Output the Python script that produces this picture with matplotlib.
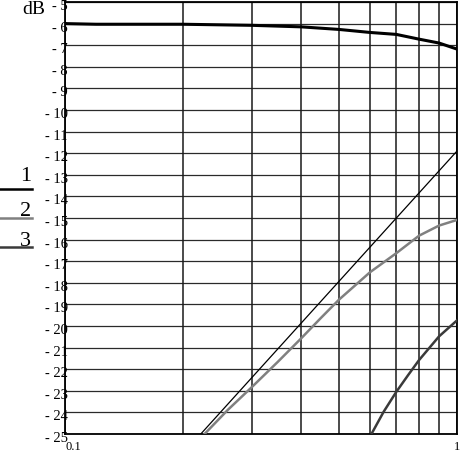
import matplotlib
matplotlib.use("Agg")
import matplotlib.pyplot as plt
import matplotlib.transforms as mtransforms
from matplotlib.lines import Line2D

plt.rcParams['font.family'] = ['Liberation Serif', 'DejaVu Serif']

# curve 1 (thick black, top)
f1 = [0.1, 0.12, 0.2, 0.3, 0.4, 0.5, 0.6, 0.7, 0.8, 0.9, 1.0]
db1 = [-6.0, -6.03, -6.03, -6.08, -6.15, -6.27, -6.41, -6.5, -6.72, -6.9, -7.18]

# thin black straight line
f_lin = [0.222, 1.0]
db_lin = [-25.0, -11.9]

# curve 2 (gray)
f2 = [0.227, 0.26, 0.3, 0.349, 0.4, 0.45, 0.5, 0.6, 0.7, 0.8, 0.9, 1.0]
db2 = [-25.0, -23.89, -22.82, -21.66, -20.58, -19.62, -18.78, -17.51, -16.63,
       -15.82, -15.35, -15.09]

# curve 3 (dark)
f3 = [0.605, 0.65, 0.7, 0.75, 0.8, 0.9, 1.0]
db3 = [-25.0, -23.97, -23.05, -22.28, -21.58, -20.48, -19.74]

y_ticks = list(range(-5, -26, -1))
x_grid = [0.1, 0.2, 0.3, 0.4, 0.5, 0.6, 0.7, 0.8, 0.9, 1.0]

fig = plt.figure(figsize=(4.65, 4.54), dpi=100)
ax = fig.add_axes([65 / 465, 20 / 454, 392 / 465, 432 / 454])

ax.set_xscale('log')
ax.set_xlim(0.1, 1.0)
ax.set_ylim(-25, -5)

for v in y_ticks:
    ax.axhline(v, color='#2a2a2a', lw=0.9, zorder=1)
for v in x_grid:
    ax.axvline(v, color='#1a1a1a', lw=1.1, zorder=1)

ax.plot(f1, db1, color='black', lw=2.2, zorder=3)
ax.plot(f_lin, db_lin, color='black', lw=0.9, zorder=3)
ax.plot(f2, db2, color='#808080', lw=1.8, zorder=3)
ax.plot(f3, db3, color='#3a3a3a', lw=1.8, zorder=3)

ax.set_yticks(y_ticks)
ax.set_yticklabels([f"- {abs(v)}" for v in y_ticks], fontsize=10.5)
ax.set_xticks([0.1, 1.0])
ax.set_xticklabels(['0.1', '1'], fontsize=9)
ax.xaxis.set_minor_locator(matplotlib.ticker.NullLocator())
ax.tick_params(axis='y', length=0, pad=-2)
ax.tick_params(axis='x', length=0, pad=5)
xl = ax.get_xticklabels()
xl[0].set_horizontalalignment('left')
xl[1].set_horizontalalignment('center')

# y labels sit a few pixels below their grid lines
shift = mtransforms.ScaledTranslation(0, -3 / 100, fig.dpi_scale_trans)
for lab in ax.get_yticklabels():
    lab.set_transform(lab.get_transform() + shift)

for s in ax.spines.values():
    s.set_linewidth(1.3)
    s.set_color('black')

fig.text(22 / 465, 1 - 9 / 454, 'dB', fontsize=14, va='center', ha='left')

# legend at left
leg_labels = ['1', '2', '3']
leg_colors = ['black', '#808080', '#3a3a3a']
leg_line_y = [189, 218, 247]
leg_text_y = [181, 216, 246]
for lab, c, yl, yt in zip(leg_labels, leg_colors, leg_line_y, leg_text_y):
    fig.add_artist(Line2D([0, 32 / 465], [1 - yl / 454] * 2, color=c, lw=1.8,
                          transform=fig.transFigure))
    fig.text(31 / 465, 1 - yt / 454, lab, fontsize=16, ha='right', va='baseline')

fig.savefig('out.png', dpi=100)
